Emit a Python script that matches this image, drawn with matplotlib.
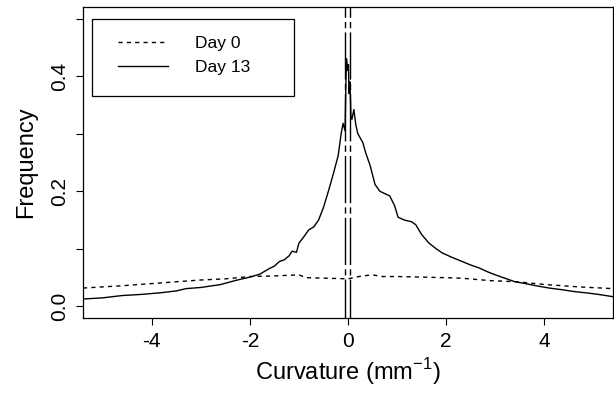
"""
Curvature distribution, Day 0 vs Day 13.
"""

import matplotlib
matplotlib.use('Agg')
import matplotlib.pyplot as plt
from matplotlib.patches import Rectangle

plt.rcParams['font.family'] = ['Liberation Sans', 'DejaVu Sans']

# Day 0 (dashed)
day0_x = [-5.4, -4.6, -3.8, -3.0, -2.5, -2.0, -1.5, -1.0, -0.86, -0.4, 0.0,
          0.22, 0.49, 0.7, 1.0, 1.5, 2.0, 2.33, 2.88, 3.42, 4.03, 4.71, 5.4]
day0_y = [0.032, 0.036, 0.041, 0.046, 0.048, 0.052, 0.053, 0.055, 0.050, 0.049, 0.048,
          0.052, 0.055, 0.052, 0.052, 0.051, 0.050, 0.049, 0.045, 0.043, 0.038, 0.034, 0.031]

# Day 13 (solid)
day13_x = [-5.4, -5.0, -4.6, -4.2, -3.8, -3.5, -3.3, -3.0, -2.6, -2.3, -2.0, -1.8,
           -1.6, -1.5, -1.4, -1.3, -1.2, -1.14, -1.05, -1.0, -0.9, -0.8, -0.7, -0.6,
           -0.5, -0.4, -0.3, -0.2, -0.14, -0.1, -0.06, -0.04, -0.03, -0.01, 0.01, 0.02,
           0.04, 0.06, 0.08, 0.12, 0.16, 0.2, 0.3, 0.36, 0.45, 0.55, 0.65, 0.75, 0.85,
           0.95, 1.02, 1.15, 1.3, 1.38, 1.5, 1.65, 1.8, 1.92, 2.1, 2.33, 2.5, 2.67,
           2.85, 3.0, 3.2, 3.4, 3.6, 3.83, 4.1, 4.37, 4.6, 4.92, 5.1, 5.4]
day13_y = [0.013, 0.015, 0.019, 0.021, 0.024, 0.027, 0.031, 0.033, 0.038, 0.045, 0.051, 0.056,
           0.066, 0.070, 0.078, 0.081, 0.088, 0.096, 0.094, 0.110, 0.121, 0.133, 0.138, 0.150,
           0.172, 0.200, 0.230, 0.262, 0.300, 0.318, 0.305, 0.400, 0.430, 0.410, 0.420, 0.370,
           0.390, 0.330, 0.325, 0.342, 0.315, 0.300, 0.285, 0.267, 0.245, 0.212, 0.200, 0.196, 0.192,
           0.175, 0.155, 0.150, 0.147, 0.142, 0.125, 0.110, 0.100, 0.093, 0.086, 0.078, 0.072, 0.067,
           0.060, 0.055, 0.049, 0.043, 0.040, 0.036, 0.032, 0.029, 0.026, 0.023, 0.021, 0.017]

# reference lines near zero
vlines_x = [-0.06, 0.04]

x_ticks = [-4, -2, 0, 2, 4]
y_ticks = [0.0, 0.1, 0.2, 0.3, 0.4, 0.5]
y_labels = ['0.0', '', '0.2', '', '0.4', '']

fig = plt.figure(figsize=(6.14, 3.94), dpi=100)
ax = fig.add_axes([83 / 614, 1 - 318 / 394, 530 / 614, 311 / 394])

ax.plot(day0_x, day0_y, color='black', lw=1.0, linestyle=(0, (3, 3)), label='Day 0')
ax.plot(day13_x, day13_y, color='black', lw=1.0, label='Day 13')
for xv in vlines_x:
    ax.axvline(xv, color='black', lw=1.0, linestyle=(6, (34, 3, 4.5, 3)))

ax.set_xlim(-5.4, 5.4)
ax.set_ylim(-0.02, 0.52)
ax.set_xticks(x_ticks)
ax.set_xticklabels([str(t) for t in x_ticks], fontsize=15)
ax.set_yticks(y_ticks)
ax.set_yticklabels(y_labels, fontsize=15, rotation=90, va='center')
ax.tick_params(direction='out', length=5, width=0.8, pad=5)
for s in ax.spines.values():
    s.set_linewidth(0.9)

ax.set_xlabel('Curvature (mm$^{\\mathregular{-1}}$)', fontsize=17, labelpad=4)
ax.set_ylabel('Frequency', fontsize=17, labelpad=9)

# legend frame drawn separately, entries placed inside it
ax.add_patch(Rectangle((0.017, 0.714), 0.381, 0.247, transform=ax.transAxes,
                       facecolor='white', edgecolor='black', lw=0.9, zorder=3))
leg = ax.legend(loc='upper left', bbox_to_anchor=(0.035, 0.961), borderaxespad=0,
                fontsize=12.5, handlelength=2.9, handletextpad=1.55,
                labelspacing=0.55, borderpad=0.95, frameon=False)
leg.set_zorder(4)

plt.savefig('out.png', dpi=100, facecolor='white')
plt.close()
